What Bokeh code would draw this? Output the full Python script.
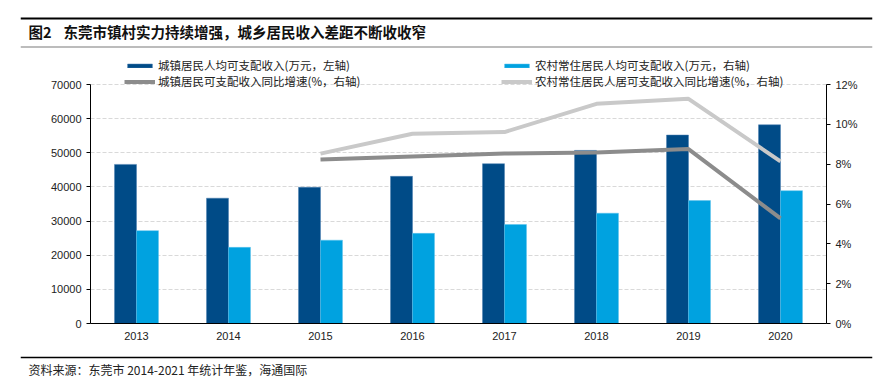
from bokeh.plotting import figure
from bokeh.layouts import column, row
from bokeh.models import (FactorRange, Range1d, LinearAxis, FixedTicker, PrintfTickFormatter,
                          Legend, LegendItem, Label, Span, ColumnDataSource)
from bokeh.transform import dodge
from bokeh.embed import file_html
from bokeh.resources import INLINE

years = ["2013", "2014", "2015", "2016", "2017", "2018", "2019", "2020"]
urban_income = [46600, 36700, 39900, 43100, 46800, 50700, 55200, 58200]
rural_income = [27200, 22300, 24400, 26400, 29000, 32300, 36000, 38900]
growth_years = ["2015", "2016", "2017", "2018", "2019", "2020"]
urban_growth = [8.24, 8.39, 8.53, 8.59, 8.76, 5.28]
rural_growth = [8.53, 9.53, 9.61, 11.03, 11.28, 8.14]
left_ticks = [0, 10000, 20000, 30000, 40000, 50000, 60000, 70000]
right_ticks = [0, 2, 4, 6, 8, 10, 12]
left_max = 70000
right_max = 12

title_tag = "图2"
title_text = "东莞市镇村实力持续增强，城乡居民收入差距不断收收窄"
source_text = "资料来源：东莞市 2014-2021 年统计年鉴，海通国际"
lbl_urban = "城镇居民人均可支配收入(万元，左轴)"
lbl_rural = "农村常住居民人均可支配收入(万元，右轴)"
lbl_urban_g = "城镇居民可支配收入同比增速(%，右轴)"
lbl_rural_g = "农村常住居民人居可支配收入同比增速(%，右轴)"

CJK = "Noto Sans CJK SC"
NUM = "Liberation Sans"


def bare(fig):
    fig.outline_line_color = None
    fig.xgrid.grid_line_color = None
    fig.ygrid.grid_line_color = None
    fig.background_fill_color = "white"
    fig.border_fill_color = "white"


# ---------------- header ----------------
hdr = figure(width=880, height=48, x_range=Range1d(0, 852), y_range=Range1d(0, 32),
             x_axis_type=None, y_axis_type=None, min_border=0,
             min_border_left=20, min_border_right=8, min_border_top=16, min_border_bottom=0,
             output_backend="svg", toolbar_location=None)
bare(hdr)
hdr.add_layout(Span(location=30, dimension="width", line_color="black", line_width=2))
hdr.add_layout(Span(location=1.5, dimension="width", line_color="#a6a6a6", line_width=1.5))
hdr.add_layout(Label(x=8, y=17.5, text=title_tag, text_font=CJK, text_font_size="14.5px",
                     text_font_style="bold", text_baseline="middle", text_color="#111111"))
hdr.add_layout(Label(x=43, y=17.5, text=title_text, text_font=CJK, text_font_size="14.5px",
                     text_font_style="bold", text_baseline="middle", text_color="#111111"))

# ---------------- main chart ----------------
frame_h = 269
axis_h = 239
src = ColumnDataSource(dict(year=years, urban=urban_income, rural=rural_income))
gsrc = ColumnDataSource(dict(year=growth_years, ug=urban_growth, rg=rural_growth))

p = figure(x_range=FactorRange(*years), y_range=Range1d(0, left_max * frame_h / axis_h),
           frame_width=736, frame_height=frame_h, min_border=0,
           min_border_left=90, min_border_right=54, min_border_top=6, min_border_bottom=27,
           output_backend="svg", toolbar_location=None)
p.extra_y_ranges = {"pct": Range1d(0, right_max * frame_h / axis_h)}
bare(p)
p.ygrid.grid_line_color = "#d9d9d9"
p.ygrid.grid_line_dash = "4 2"
p.ygrid.grid_line_width = 1

yax = p.yaxis[0]
yax.ticker = FixedTicker(ticks=left_ticks)
yax.bounds = (0, left_max)
yax.axis_line_color = "black"
yax.major_tick_line_color = "black"
yax.major_tick_out = 4
yax.major_tick_in = 0
yax.minor_tick_line_color = None
yax.major_label_text_font = NUM
yax.major_label_text_font_size = "11px"
yax.major_label_text_color = "#222222"
yax.major_label_standoff = 5

xax = p.xaxis[0]
xax.axis_line_color = "black"
xax.major_tick_line_color = None
xax.major_tick_out = 0
xax.major_label_text_font = NUM
xax.major_label_text_font_size = "11px"
xax.major_label_text_color = "#222222"
xax.major_label_standoff = 8

rax = LinearAxis(y_range_name="pct", ticker=FixedTicker(ticks=right_ticks),
                 formatter=PrintfTickFormatter(format="%d%%"), bounds=(0, right_max))
rax.axis_line_color = "black"
rax.major_tick_line_color = "black"
rax.major_tick_out = 4
rax.major_tick_in = 0
rax.minor_tick_line_color = None
rax.major_label_text_font = NUM
rax.major_label_text_font_size = "11px"
rax.major_label_text_color = "#222222"
rax.major_label_standoff = 5
p.add_layout(rax, "right")

bw = 0.239
b1 = p.vbar(x=dodge("year", -bw / 2, range=p.x_range), top="urban", width=bw, source=src,
            fill_color="#004b87", line_color="#4a7fb0", line_width=0.5)
b2 = p.vbar(x=dodge("year", bw / 2, range=p.x_range), top="rural", width=bw, source=src,
            fill_color="#00a2e0", line_color="#5cc3ec", line_width=0.5)
l1 = p.line(x="year", y="ug", source=gsrc, y_range_name="pct", line_color="#8c8c8c", line_width=4)
l2 = p.line(x="year", y="rg", source=gsrc, y_range_name="pct", line_color="#c9c9c9", line_width=4)


def make_legend(items, loc):
    return Legend(items=items, location=loc, orientation="horizontal",
                  glyph_width=31, glyph_height=5, label_height=14, label_width=343, spacing=0,
                  padding=0, margin=0, border_line_color=None, background_fill_alpha=0,
                  label_text_font=CJK, label_text_font_size="11.5px", label_text_color="#222222",
                  label_standoff=3)


leg1 = make_legend([LegendItem(label=lbl_urban, renderers=[b1]),
                    LegendItem(label=lbl_rural, renderers=[b2])], (34, 250))
leg2 = make_legend([LegendItem(label=lbl_urban_g, renderers=[l1]),
                    LegendItem(label=lbl_rural_g, renderers=[l2])], (34, 234))
p.add_layout(leg1)
p.add_layout(leg2)

# ---------------- footer ----------------
ftr = figure(width=880, height=29, x_range=Range1d(0, 852), y_range=Range1d(0, 29),
             x_axis_type=None, y_axis_type=None, min_border=0,
             min_border_left=20, min_border_right=8, min_border_top=0, min_border_bottom=0,
             output_backend="svg", toolbar_location=None)
bare(ftr)
ftr.add_layout(Span(location=22, dimension="width", line_color="black", line_width=1.5))
ftr.add_layout(Label(x=8, y=10, text=source_text, text_font=CJK, text_font_size="12px",
                     text_baseline="middle", text_color="#222222"))

layout = column(row(hdr), row(p), row(ftr), spacing=0)
open("out.html", "w").write(file_html(layout, INLINE))
